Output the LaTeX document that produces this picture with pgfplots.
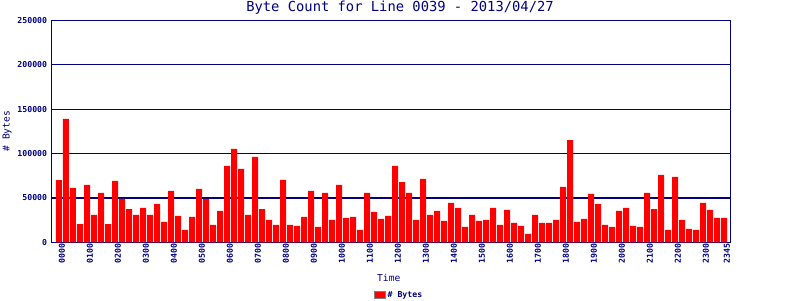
\documentclass[border=0pt]{standalone}
\usepackage{fontspec}
\setmainfont{DejaVu Sans Mono}
\usepackage{pgfplots}
\pgfplotsset{compat=1.18}
\definecolor{navy}{RGB}{0,0,128}
\definecolor{barred}{RGB}{255,0,0}
\begin{document}
\begin{tikzpicture}
\useasboundingbox (0pt,0pt) rectangle (800pt,300pt);
\begin{axis}[
  at={(51.3pt,57.7pt)}, anchor=south west,
  width=679pt, height=222pt, scale only axis,
  xmin=-1.1, xmax=95.9, ymin=0, ymax=250000,
  axis line style={navy, line width=1.2pt},
  ymajorgrids, grid style={navy, line width=1.2pt},
  axis on top=false,
  major tick length=0pt,
  scaled y ticks=false,
  xtick={0,4,8,12,16,20,24,28,32,36,40,44,48,52,56,60,64,68,72,76,80,84,88,92,95},
  xticklabels={0000,0100,0200,0300,0400,0500,0600,0700,0800,0900,1000,1100,1200,1300,1400,1500,1600,1700,1800,1900,2000,2100,2200,2300,2345},
  x tick label style={rotate=90, anchor=east, font=\fontsize{8.2}{9}\selectfont\bfseries, text=navy, inner sep=1pt, yshift=-3pt},
  ytick={0,50000,100000,150000,200000,250000},
  yticklabels={0,50000,100000,150000,200000,250000},
  y tick label style={font=\fontsize{8.2}{9}\selectfont\bfseries, text=navy, inner sep=1pt, xshift=-3pt},
  xlabel={Time},
  xlabel style={at={(axis description cs:0.497,-0.16)}, anchor=center, font=\fontsize{9.6}{11}\selectfont, text=navy},
  ylabel={\# Bytes},
  ylabel style={at={(axis description cs:-0.065,0.5)}, anchor=center, font=\fontsize{9.6}{11}\selectfont, text=navy},
  legend style={at={(axis description cs:0.512,-0.237)}, anchor=center, draw=none, fill=none, font=\fontsize{8.2}{9}\selectfont\bfseries, text=navy, inner sep=0pt},
  legend image code/.code={\draw[fill=barred, draw=gray, line width=1pt] (0pt,-3.5pt) rectangle (11pt,3.5pt);},
]
\addplot[ybar, bar width=6pt, fill=barred, draw=none] coordinates {
(0,70000) (1,138900) (2,61200) (3,20600) (4,64600) (5,30800) (6,55600) (7,20600)
(8,69100) (9,48800) (10,37500) (11,30800) (12,38700) (13,30800) (14,43200) (15,22900)
(16,57800) (17,29700) (18,13900) (19,28500) (20,60100) (21,48800) (22,19500) (23,35300)
(24,86000) (25,105100) (26,82600) (27,30800) (28,96100) (29,37500) (30,25200) (31,19500)
(32,70200) (33,19500) (34,18400) (35,28500) (36,57800) (37,17300) (38,55600) (39,25200)
(40,64600) (41,27400) (42,28500) (43,13900) (44,55600) (45,34200) (46,26300) (47,29700)
(48,86000) (49,67900) (50,55600) (51,25200) (52,71300) (53,30800) (54,35300) (55,24000)
(56,44300) (57,38700) (58,17300) (59,30800) (60,24000) (61,25200) (62,38700) (63,19500)
(64,36400) (65,21800) (66,18400) (67,9400) (68,30800) (69,21800) (70,21800) (71,25200)
(72,62300) (73,115200) (74,22900) (75,26300) (76,54400) (77,43200) (78,19500) (79,17300)
(80,35300) (81,38700) (82,18400) (83,17300) (84,55600) (85,37500) (86,75800) (87,13900)
(88,73600) (89,25200) (90,15000) (91,13900) (92,44300) (93,36400) (94,27400) (95,27400)
};
\addlegendentry{\# Bytes}
\end{axis}
\node[anchor=base, inner sep=0pt, font=\fontsize{13.8}{15}\selectfont, text=navy] at (400pt,288pt) {Byte Count for Line 0039 - 2013/04/27};
\end{tikzpicture}
\end{document}
